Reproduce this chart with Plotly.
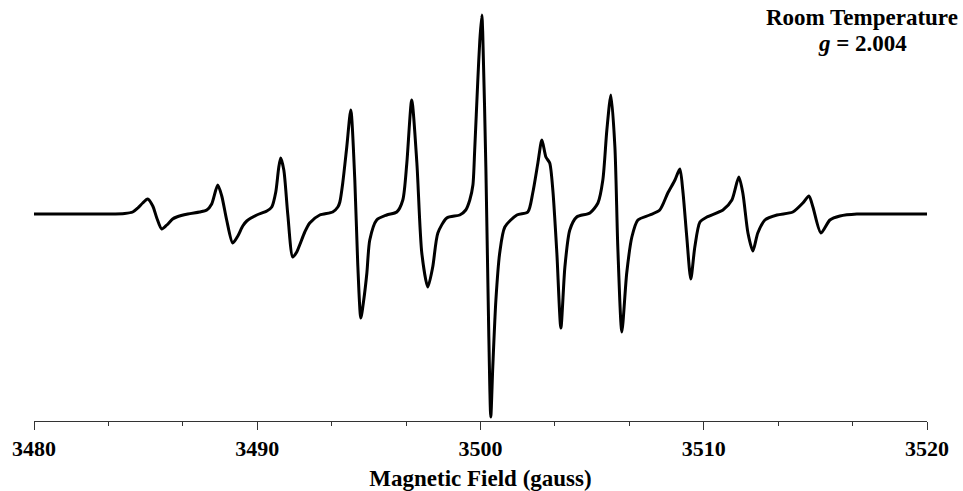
import plotly.graph_objects as go

# Magnetic field (gauss)
field_gauss = [
    3480.00, 3481.15, 3482.50, 3483.39, 3484.06, 3484.42, 3484.65, 3484.87, 3485.09, 3485.32,
    3485.50, 3485.72, 3485.95, 3486.21, 3486.39, 3486.89, 3487.42, 3487.74, 3487.96, 3488.23,
    3488.41, 3488.63, 3488.90, 3489.13, 3489.35, 3489.53, 3489.98, 3490.43, 3490.65, 3490.83,
    3490.96, 3491.05, 3491.19, 3491.37, 3491.59, 3491.77, 3491.90, 3492.13, 3492.35, 3492.80,
    3493.38, 3493.61, 3493.70, 3493.83, 3494.01, 3494.19, 3494.37, 3494.50, 3494.64, 3494.77,
    3494.91, 3495.04, 3495.35, 3495.80, 3496.25, 3496.52, 3496.70, 3496.92, 3497.15, 3497.37,
    3497.64, 3497.86, 3498.09, 3498.49, 3499.07, 3499.34, 3499.52, 3499.66, 3499.74, 3499.88,
    3499.97, 3500.06, 3500.10, 3500.24, 3500.37, 3500.46, 3500.55, 3500.69, 3500.86, 3501.09,
    3501.63, 3502.12, 3502.34, 3502.57, 3502.75, 3502.93, 3503.10, 3503.24, 3503.42, 3503.60,
    3503.78, 3504.00, 3504.31, 3504.90, 3505.26, 3505.48, 3505.66, 3505.84, 3506.02, 3506.15,
    3506.33, 3506.55, 3506.78, 3507.05, 3507.58, 3508.03, 3508.39, 3508.71, 3508.93, 3509.06,
    3509.24, 3509.42, 3509.60, 3509.83, 3510.14, 3510.86, 3511.26, 3511.57, 3511.75, 3511.98,
    3512.20, 3512.42, 3512.74, 3513.28, 3513.99, 3514.44, 3514.71, 3514.89, 3515.25, 3515.65,
    3516.10, 3516.86, 3517.89, 3520.00,
]

# EPR derivative signal (arbitrary units)
signal = [
    0, 0, 0, 0, 0.5, 2, 6, 11, 15, 8,
    -4, -15, -11, -5, -3, 0, 2, 4, 10, 29,
    18, -6, -29, -22, -12, -7, -1, 3, 7, 22,
    46, 56, 44, -1, -43, -38, -31, -18, -9, -1,
    2, 7, 12, 31, 67, 104, 34, -49, -104, -86,
    -59, -26, -6, -1, 2, 14, 51, 114, 51, -39,
    -73, -53, -19, -4, -1, 4, 14, 29, 64, 134,
    174, 199, 181, 47, -119, -203, -153, -86, -39, -13,
    -1, 2, 21, 51, 74, 57, 51, 24, -39, -114,
    -53, -16, -3, 1, 11, 34, 84, 119, 67, -33,
    -118, -59, -23, -6, -1, 4, 21, 34, 45, 24,
    -23, -65, -33, -8, -3, 4, 14, 37, 21, -19,
    -37, -19, -6, -1, 2, 11, 18, 7, -19, -6,
    -2, 0, 0, 0,
]

x_tick_values = [3480, 3490, 3500, 3510, 3520]
x_tick_labels = ["3480", "3490", "3500", "3510", "3520"]

FONT = "Liberation Serif"

fig = go.Figure()
fig.add_trace(go.Scatter(
    x=field_gauss, y=signal, mode="lines",
    line=dict(color="black", width=3, shape="spline", smoothing=0.7),
    showlegend=False, hoverinfo="skip",
))

fig.update_layout(
    width=963, height=491,
    template="none",
    margin=dict(l=34, r=36, t=10, b=70),
    paper_bgcolor="white", plot_bgcolor="white",
    font=dict(family=FONT, color="black"),
    xaxis=dict(
        range=[3480, 3520], automargin=False,
        tickvals=x_tick_values, ticktext=x_tick_labels,
        ticks="outside", ticklen=8, tickwidth=1, tickcolor="#333333",
        showline=True, linecolor="#333333", linewidth=1,
        showgrid=False, zeroline=False,
        tickfont=dict(family=FONT, size=22, color="black", weight="bold"),
        minor=dict(dtick=10/3, tick0=3480, ticks="outside", ticklen=4,
                   tickwidth=1, tickcolor="#333333", showgrid=False),
        title=dict(text="Magnetic Field (gauss)", standoff=14,
                   font=dict(family=FONT, size=23, color="black", weight="bold")),
    ),
    yaxis=dict(range=[-207, 204], visible=False, automargin=False),
    annotations=[
        dict(text="Room Temperature", xref="paper", yref="paper",
             x=(862 - 34) / 893, y=1 - (18 - 10) / 411, xanchor="center", yanchor="middle",
             showarrow=False, font=dict(family=FONT, size=23, color="black", weight="bold")),
        dict(text="<i>g</i> = 2.004", xref="paper", yref="paper",
             x=(862 - 34) / 893, y=1 - (43 - 10) / 411, xanchor="center", yanchor="middle",
             showarrow=False, font=dict(family=FONT, size=23, color="black", weight="bold")),
    ],
)

fig.write_html("out.html", config={"displayModeBar": False, "staticPlot": True},
               post_script="document.body.style.margin='0px';")
